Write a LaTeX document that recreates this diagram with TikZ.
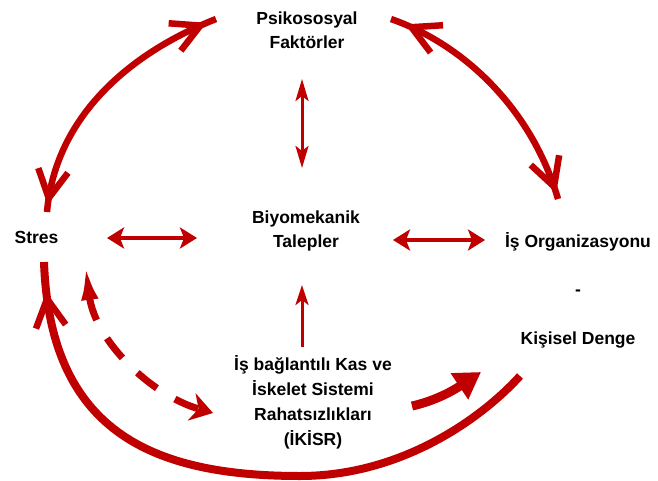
\documentclass[tikz,border=0pt]{standalone}
\usepackage{fontspec}
\setmainfont{Liberation Sans}
\usetikzlibrary{arrows.meta,decorations.markings}
\definecolor{arrred}{RGB}{192,0,0}
\begin{document}
\begin{tikzpicture}[x=1pt,y=-1pt,
  lbl/.style={inner sep=0pt, align=center, font=\bfseries\fontsize{17.5}{24}\selectfont, text=black},
  arcline/.style={draw=arrred, line width=6.5pt},
  barbline/.style={draw=arrred, line width=6.5pt, line cap=butt, line join=miter},
  barbs at start/.style={postaction={decorate, decoration={markings,
      mark=at position #1 with {\draw[barbline] (28,15)--(0,0)--(28,-15);}}}},
  barbs at end/.style={postaction={decorate, decoration={markings,
      mark=at position -#1 with {\draw[barbline] (-28,15)--(0,0)--(-28,-15);}}}},
  thinarrow/.style={draw=arrred, line width=3pt, {Stealth[length=22pt,width=13pt,inset=5pt]}-{Stealth[length=22pt,width=13pt,inset=5pt]}},
  medarrow/.style={draw=arrred, line width=4.5pt, {Stealth[length=17pt,width=21pt,inset=4pt]}-{Stealth[length=17pt,width=21pt,inset=4pt]}},
  uparrow/.style={draw=arrred, line width=3pt, -{Stealth[length=20pt,width=13pt,inset=5pt]}},
  dasharrow/.style={draw=arrred, line width=7pt, dash pattern=on 25pt off 21pt,
      {Latex[length=38pt,width=17pt]}-{Stealth[length=22pt,width=28pt,inset=7pt]}},
  bigarrow/.style={draw=arrred, line width=9pt, -{Triangle[length=26pt,width=30pt]}}
]
\useasboundingbox (0,0) rectangle (658,481);

% text nodes (anchor = baseline of the last line)
\node[lbl, anchor=base] (psiko) at (307,49) {Psikososyal\\Faktörler};
\node[lbl, anchor=base] (biyo) at (306,247) {Biyomekanik\\Talepler};
\node[lbl, anchor=base] (stres) at (36.5,243) {Stres};
\node[lbl, anchor=base, font=\bfseries\fontsize{17.5}{48.5}\selectfont] (isorg) at (578,344) {İş Organizasyonu\\-\\Kişisel Denge};
\node[lbl, anchor=base, font=\bfseries\fontsize{17.5}{25}\selectfont] (ikisr) at (313,445) {İş bağlantılı Kas ve\\İskelet Sistemi\\Rahatsızlıkları\\(İKİSR)};

% connector end points
\coordinate (tlA) at (47,212);
\coordinate (tlB) at (216,19);
\coordinate (trA) at (391,19);
\coordinate (trB) at (558,199);
\coordinate (btA) at (44,262);
\coordinate (btM) at (300,476);
\coordinate (btB) at (520,376);
\coordinate (vA) at (302,79);
\coordinate (vB) at (302,168);
\coordinate (hlA) at (107,238);
\coordinate (hlB) at (197,238);
\coordinate (hrA) at (393,240);
\coordinate (hrB) at (485,240);
\coordinate (upA) at (302,347);
\coordinate (upB) at (302,285);
\coordinate (dA) at (85,262);
\coordinate (dB) at (213,413);
\coordinate (bgA) at (412,406);
\coordinate (bgB) at (481,372);

% big arcs
\draw[arcline, barbs at start=14pt, barbs at end=17pt]
  (tlA) .. controls (55,120) and (125,55) .. (tlB);
\draw[arcline, barbs at start=22pt, barbs at end=13pt]
  (trA) .. controls (465,45) and (532,110) .. (trB);
\draw[arcline, line width=8pt, barbs at start=37pt]
  (btA) .. controls (50,430) and (150,476) .. (btM)
        .. controls (400,476) and (480,420) .. (btB);

% straight arrows
\draw[thinarrow] (vA) -- (vB);
\draw[medarrow] (hlA) -- (hlB);
\draw[medarrow] (hrA) -- (hrB);
\draw[uparrow] (upA) -- (upB);

% dashed arrow
\draw[dasharrow] (dA) .. controls (95,340) and (150,395) .. (dB);

% thick arrow to Kisisel Denge
\draw[bigarrow] (bgA) .. controls (430,402) and (448,394) .. (bgB);
\end{tikzpicture}
\end{document}
